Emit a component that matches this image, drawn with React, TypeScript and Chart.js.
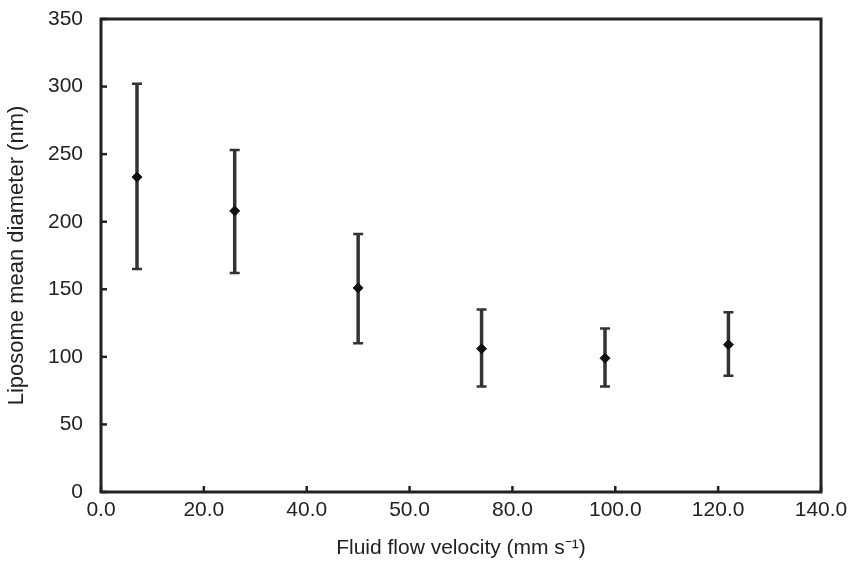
import React, { useEffect, useRef } from "react";
import { Chart, registerables } from "chart.js";

Chart.register(...registerables);

const velocity = [7, 26, 50, 74, 98, 122];
const meanDiameter = [233, 208, 151, 106, 99, 109];
const upperDiameter = [302, 253, 191, 135, 121, 133];
const lowerDiameter = [165, 162, 110, 78, 78, 86];
const xTickLabels = ["0.0", "20.0", "40.0", "50.0", "80.0", "100.0", "120.0", "140.0"];
const yTickValues = [0, 50, 100, 150, 200, 250, 300, 350];

const FONT = "'Liberation Sans', Arial, Helvetica, sans-serif";

const errorBarPlugin = {
  id: "errorBars",
  beforeDatasetsDraw(chart: any) {
    const { ctx, scales } = chart;
    const xs = scales.x;
    const ys = scales.y;
    ctx.save();
    ctx.strokeStyle = "#333";
    for (let i = 0; i < velocity.length; i++) {
      const px = xs.getPixelForValue(velocity[i]);
      const pTop = ys.getPixelForValue(upperDiameter[i]);
      const pBot = ys.getPixelForValue(lowerDiameter[i]);
      ctx.lineWidth = 3.5;
      ctx.beginPath();
      ctx.moveTo(px, pTop);
      ctx.lineTo(px, pBot);
      ctx.stroke();
      ctx.lineWidth = 2.5;
      ctx.beginPath();
      ctx.moveTo(px - 5, pTop);
      ctx.lineTo(px + 5, pTop);
      ctx.moveTo(px - 5, pBot);
      ctx.lineTo(px + 5, pBot);
      ctx.stroke();
    }
    ctx.restore();
  },
};

const framePlugin = {
  id: "frame",
  afterDraw(chart: any) {
    const { ctx, chartArea, scales } = chart;
    const { left, right, top, bottom } = chartArea;
    ctx.save();
    ctx.strokeStyle = "#222";
    ctx.lineWidth = 2.5;
    scales.x.ticks.forEach((t: any) => {
      const px = scales.x.getPixelForValue(t.value);
      ctx.beginPath();
      ctx.moveTo(px, bottom);
      ctx.lineTo(px, bottom - 6);
      ctx.stroke();
    });
    scales.y.ticks.forEach((t: any) => {
      const py = scales.y.getPixelForValue(t.value);
      ctx.beginPath();
      ctx.moveTo(left, py);
      ctx.lineTo(left + 6, py);
      ctx.stroke();
    });
    ctx.lineWidth = 3;
    ctx.strokeRect(left, top, right - left, bottom - top);
    ctx.restore();
  },
};

export default function App() {
  const canvasRef = useRef<HTMLCanvasElement | null>(null);

  useEffect(() => {
    if (!canvasRef.current) return;
    const chart = new Chart(canvasRef.current, {
      type: "scatter",
      data: {
        datasets: [
          {
            label: "Liposome mean diameter",
            data: velocity.map((v, i) => ({ x: v, y: meanDiameter[i] })),
            pointStyle: "rectRot",
            pointRadius: 5,
            backgroundColor: "#111",
            borderColor: "#111",
            borderWidth: 1,
          },
        ],
      },
      options: {
        responsive: false,
        animation: false,
        layout: { padding: { top: 19, right: 27, left: 0, bottom: 0 } },
        plugins: {
          legend: { display: false },
          tooltip: { enabled: false },
        },
        scales: {
          x: {
            type: "linear",
            min: 0,
            max: 140,
            afterFit(scale: any) {
              scale.height = 69;
              scale.paddingLeft = 0;
              scale.paddingRight = 0;
            },
            grid: { display: false, drawTicks: false },
            border: { display: false },
            ticks: {
              stepSize: 20,
              padding: 6,
              color: "#222",
              font: { family: FONT, size: 21 },
              maxRotation: 0,
              callback: (v: any) => xTickLabels[Math.round(Number(v) / 20)] ?? "",
            },
            title: {
              display: true,
              text: "Fluid flow velocity (mm s\u207B\u00B9)",
              color: "#222",
              font: { family: FONT, size: 21 },
              padding: { top: 0, bottom: 0 },
            },
          },
          y: {
            type: "linear",
            min: 0,
            max: 350,
            afterFit(scale: any) {
              scale.width = 101;
              scale.paddingTop = 0;
              scale.paddingBottom = 0;
            },
            afterBuildTicks(scale: any) {
              scale.ticks = yTickValues.map((v) => ({ value: v }));
            },
            grid: { display: false, drawTicks: false },
            border: { display: false },
            ticks: {
              padding: 18,
              color: "#222",
              font: { family: FONT, size: 21 },
              callback: (v: any) => String(v),
            },
            title: {
              display: true,
              text: "Liposome mean diameter (nm)",
              color: "#222",
              font: { family: FONT, size: 22 },
              padding: { top: 4, bottom: 0 },
            },
          },
        },
      },
      plugins: [errorBarPlugin, framePlugin],
    });
    return () => chart.destroy();
  }, []);

  return (
    <div style={{ position: "absolute", left: 0, top: 0, width: 848, height: 561, background: "#fff" }}>
      <canvas ref={canvasRef} width={848} height={561} />
    </div>
  );
}
